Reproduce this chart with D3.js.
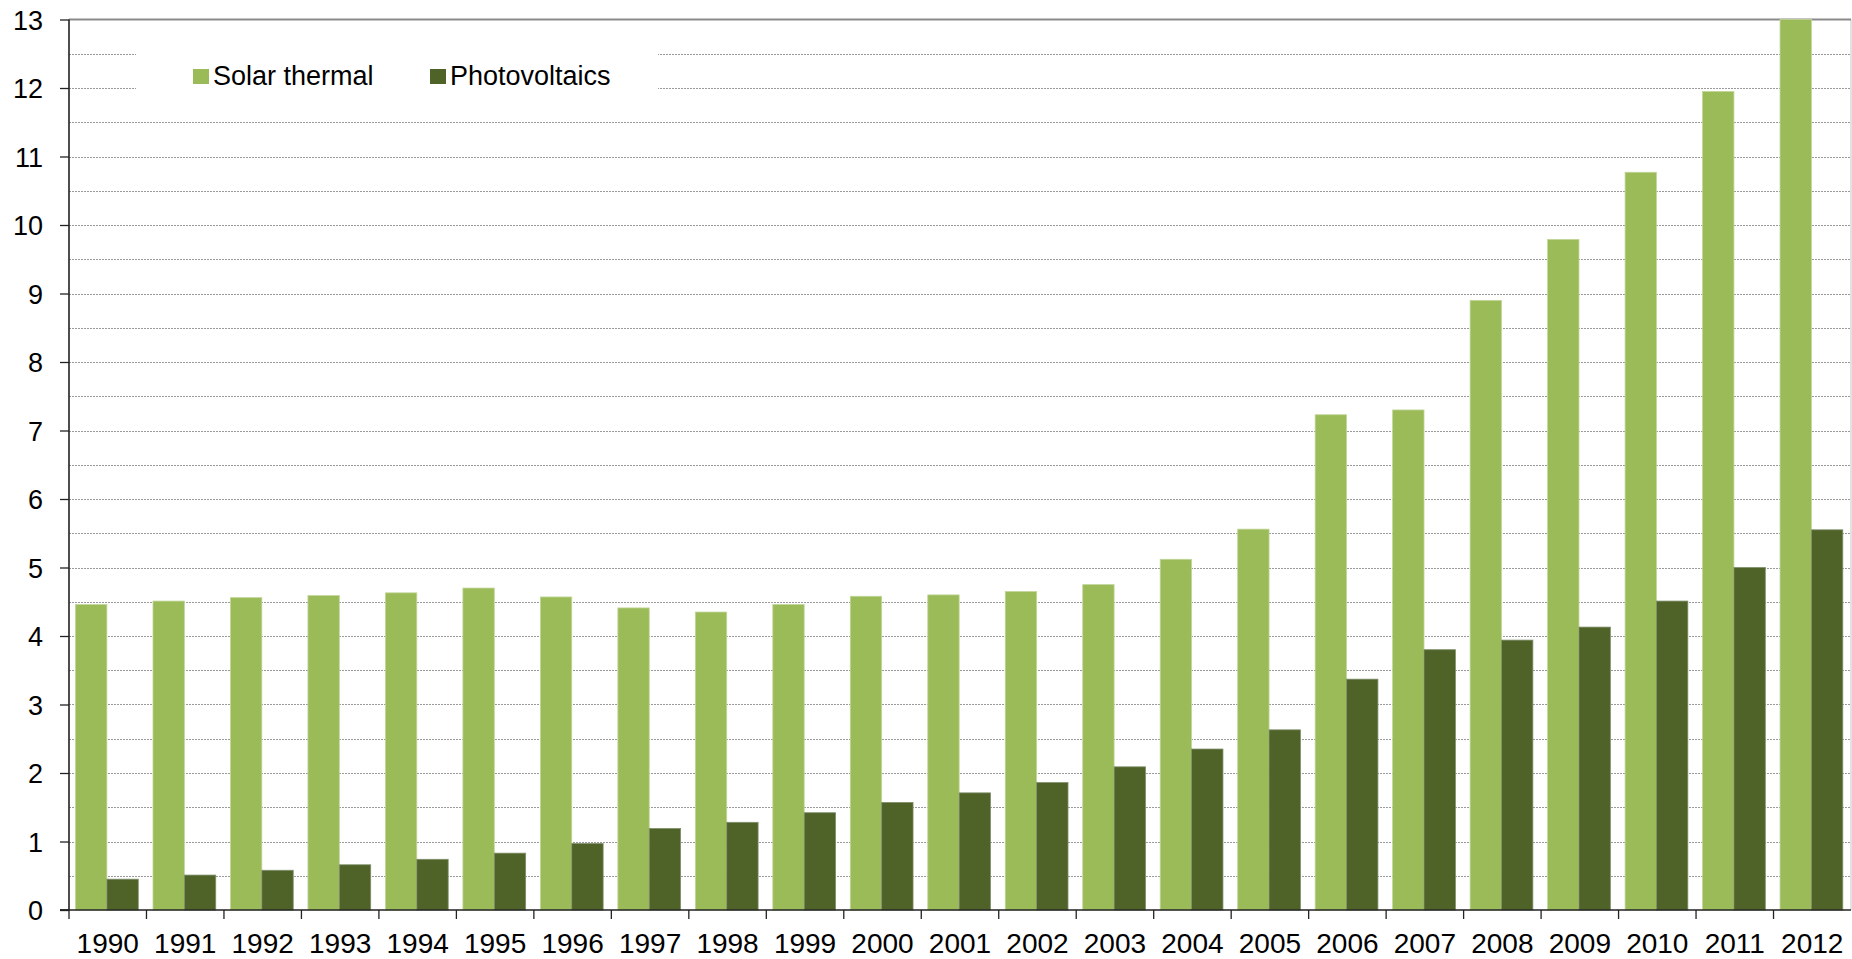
<!DOCTYPE html>
<html><head><meta charset="utf-8">
<script src="https://cdn.jsdelivr.net/npm/d3@7"></script>
<style>
html,body{margin:0;padding:0;background:#fff;}
svg{display:block;font-family:"Liberation Sans",Arial,sans-serif;}
</style></head>
<body>
<svg id="chart" width="1852" height="959"></svg>
<script>
const years = ["1990","1991","1992","1993","1994","1995","1996","1997","1998","1999","2000","2001","2002","2003","2004","2005","2006","2007","2008","2009","2010","2011","2012"];
const seriesNames = ["Solar thermal","Photovoltaics"];
const solarThermal = [4.46,4.51,4.56,4.59,4.63,4.70,4.57,4.41,4.35,4.46,4.58,4.60,4.65,4.75,5.12,5.56,7.23,7.30,8.90,9.79,10.77,11.95,13.0];
const photovoltaics = [0.45,0.51,0.58,0.66,0.74,0.83,0.97,1.19,1.28,1.42,1.57,1.71,1.86,2.09,2.35,2.63,3.37,3.80,3.94,4.13,4.51,5.00,5.55];
const yTicks = [0,1,2,3,4,5,6,7,8,9,10,11,12,13];
const colors = ["#9BBB59","#4F6228"];

(function(){
const svg = d3.select("#chart");
const pL = 69, pR = 1851, pT = 19.5, pB = 910;

const x = d3.scaleBand().domain(years).range([pL, pR]).padding(0);
const bw = x.bandwidth();
const barW = bw * 0.405;
const x1 = d3.scaleBand().domain(seriesNames).range([bw*0.084, bw*0.084 + 2*barW]).padding(0);
const y = d3.scaleLinear().domain([0,13]).range([pB, pT]);

// gridlines every 0.5
const grid = d3.range(0.5, 13, 0.5);
svg.append("g").selectAll("line").data(grid).join("line")
  .attr("x1", pL).attr("x2", pR)
  .attr("y1", d => Math.round(y(d))+0.5).attr("y2", d => Math.round(y(d))+0.5)
  .attr("stroke", "#9a9a9a").attr("stroke-width", 1).attr("stroke-dasharray", "2,1");

// right border
svg.append("line").attr("x1", pR).attr("x2", pR).attr("y1", pT).attr("y2", pB)
  .attr("stroke", "#d9d9d9").attr("stroke-width", 1.5);

// top border
svg.append("line").attr("x1", pL).attr("x2", pR).attr("y1", y(13)).attr("y2", y(13))
  .attr("stroke", "#8a8a8a").attr("stroke-width", 2.2);

// legend background
svg.append("rect").attr("x", 136).attr("y", 40).attr("width", 522).attr("height", 72).attr("fill", "#fff");

// bars
const data = years.map((yr, i) => ({year: yr, vals: [solarThermal[i], photovoltaics[i]]}));
const groups = svg.append("g").selectAll("g").data(data).join("g")
  .attr("transform", d => `translate(${x(d.year)},0)`);
groups.selectAll("rect").data(d => d.vals.map((v, j) => ({v, s: seriesNames[j], j}))).join("rect")
  .attr("x", d => x1(d.s))
  .attr("width", x1.bandwidth())
  .attr("y", d => y(d.v))
  .attr("height", d => y(0) - y(d.v))
  .attr("fill", d => colors[d.j])
  .attr("stroke", d => d.j === 0 ? "#c2d69a" : "#7f8f6a")
  .attr("stroke-width", 0.8);

// y axis
const yAxis = d3.axisLeft(y).tickValues(yTicks).tickSize(9).tickPadding(17).tickFormat(d3.format("d"));
const ya = svg.append("g").attr("transform", `translate(${pL},0)`).call(yAxis);
ya.select(".domain").attr("stroke", "#222").attr("stroke-width", 1.6).attr("d", `M-9,${pB}H0V${pT}`);
ya.selectAll(".tick line").attr("stroke", "#222").attr("stroke-width", 1.3);
ya.selectAll(".tick text").attr("font-size", 27).attr("fill", "#000")
  .attr("font-family", "'Liberation Sans', Arial, sans-serif")
  .attr("dy", "0.36em");

// x axis
const xa = svg.append("g").attr("transform", `translate(0,${pB})`);
xa.append("line").attr("x1", pL - 9).attr("x2", pR).attr("y1", 0).attr("y2", 0)
  .attr("stroke", "#222").attr("stroke-width", 1.6);
const edges = years.map(d => x(d));
xa.selectAll("line.tk").data(edges).join("line").attr("class", "tk")
  .attr("x1", d => d).attr("x2", d => d).attr("y1", 0).attr("y2", 9)
  .attr("stroke", "#222").attr("stroke-width", 1.3);
xa.selectAll("text").data(years).join("text")
  .attr("x", d => x(d) + bw/2).attr("y", 43)
  .attr("text-anchor", "middle").attr("font-size", 28).attr("fill", "#000")
  .text(d => d);

// legend
const leg = svg.append("g");
const legItems = [{name: seriesNames[0], c: colors[0], x: 193}, {name: seriesNames[1], c: colors[1], x: 430}];
leg.selectAll("rect").data(legItems).join("rect")
  .attr("x", d => d.x).attr("y", 69).attr("width", 16).attr("height", 15).attr("fill", d => d.c);
leg.selectAll("text").data(legItems).join("text")
  .attr("x", d => d.x + 20).attr("y", 84.5).attr("font-size", 27).attr("fill", "#000")
  .text(d => d.name);
})();
</script>
</body></html>
